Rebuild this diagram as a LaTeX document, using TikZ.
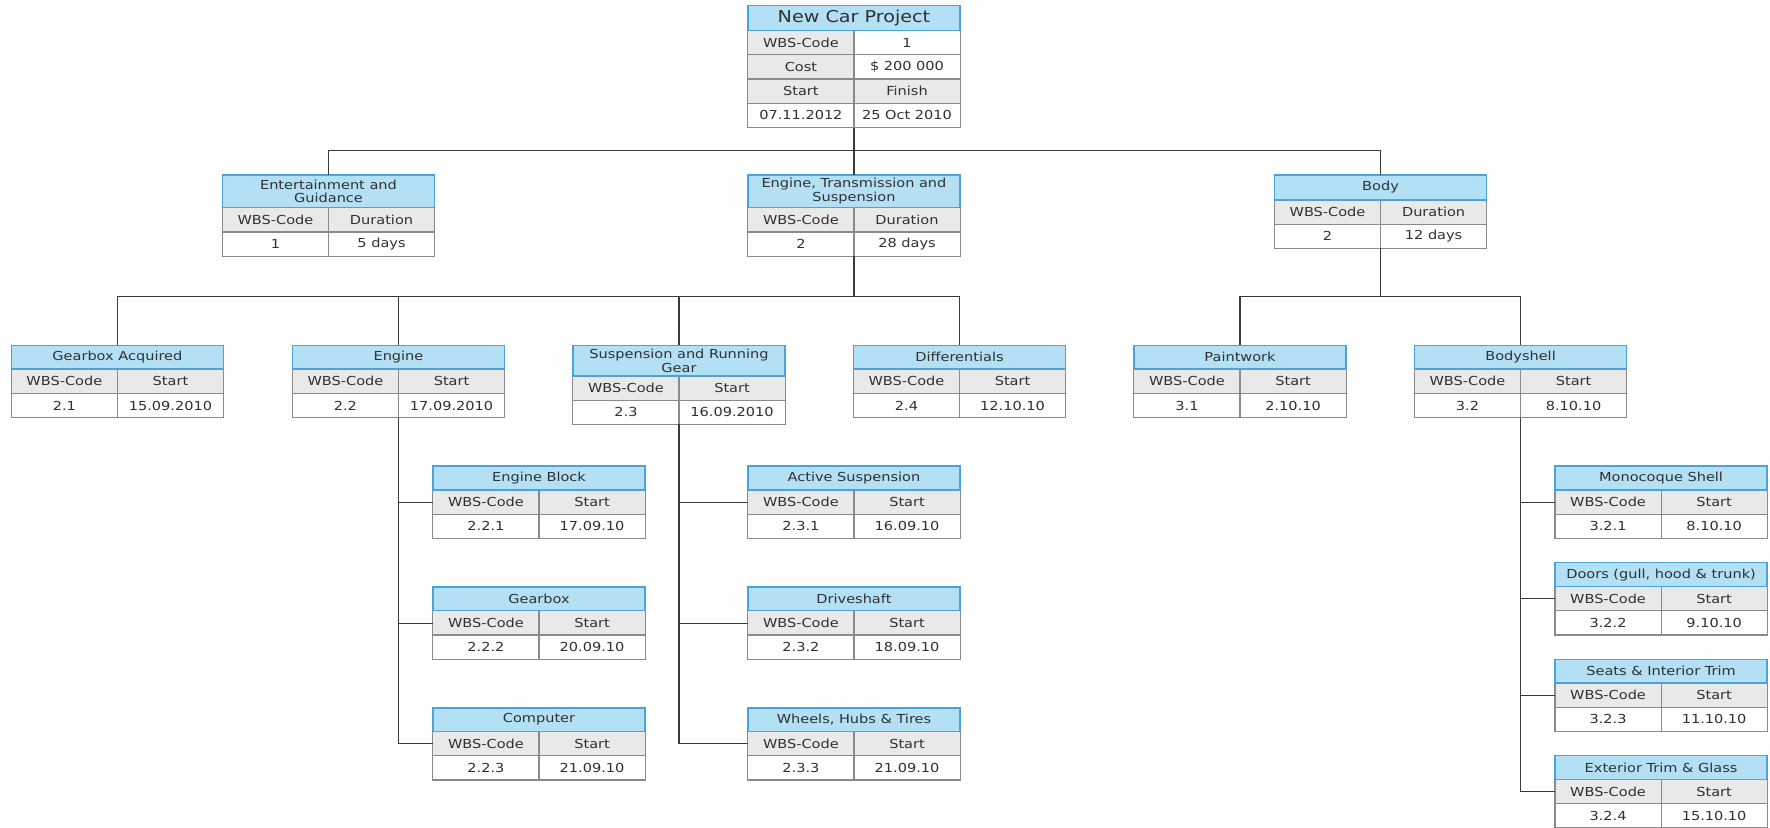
\documentclass[tikz,border=0pt]{standalone}
\usepackage{fontspec}
\setmainfont{DejaVu Sans}[FakeStretch=1.17]
\usetikzlibrary{calc}
\definecolor{tfill}{HTML}{B3E0F5}
\definecolor{tborder}{HTML}{4BA3DC}
\definecolor{hfill}{HTML}{E9E9E9}
\definecolor{gline}{HTML}{8A8A8A}
\definecolor{txt}{HTML}{303030}
\definecolor{conncol}{HTML}{3A3A3A}
\tikzset{
  frame/.style={inner sep=0pt, outer sep=0pt, minimum width=188pt},
  ttl/.style={inner sep=0pt, align=center, text=txt, font=\fontsize{11}{12}\selectfont},
  cell/.style={inner sep=0pt, text=txt, font=\fontsize{11}{12}\selectfont},
  bigttl/.style={inner sep=0pt, text=txt, font=\fontsize{14.5}{16}\selectfont},
  gridln/.style={draw=gline, line width=1pt},
  tline/.style={draw=tborder, line width=1.3pt},
  connln/.style={draw=conncol, line width=1pt},
}
% #1 name, #2 x, #3 y (center), #4 title height, #5 title, #6-#9 cells
\newcommand\wbs[9]{%
  \node[frame, minimum height={(#4+43)*1pt}] (#1) at (#2,#3) {};
  \begin{scope}[shift={(#1.north west)}]
    \fill[tfill] (0,0) rectangle (188,#4);
    \fill[hfill] (0,#4) rectangle (188,#4+21.5);
    \draw[gridln] (0,#4) rectangle (188,#4+43);
    \draw[gridln] (0,#4+21.5) -- (188,#4+21.5) (94,#4) -- (94,#4+43);
    \draw[tline] (0,0) rectangle (188,#4);
    \node[ttl] (#1-t) at (94,#4/2) {#5};
    \node[cell] (#1-a) at (47,#4+10.75) {#6};
    \node[cell] (#1-b) at (141,#4+10.75) {#7};
    \node[cell] (#1-c) at (47,#4+32.25) {#8};
    \node[cell] (#1-d) at (141,#4+32.25) {#9};
  \end{scope}}
\begin{document}
\begin{tikzpicture}[x=1pt,y=-1pt]
\useasboundingbox (0,0) rectangle (1568,733);
\fill[white] (0,0) rectangle (1568,733);
% top node
\node[frame, minimum height=108pt] (top) at (756.5,59) {};
\begin{scope}[shift={(top.north west)}]
  \fill[tfill] (0,0) rectangle (188,22);
  \fill[hfill] (0,22) rectangle (94,65);
  \fill[hfill] (94,65) rectangle (188,86.5);
  \fill[hfill] (0,65) rectangle (94,86.5);
  \draw[gridln] (0,22) rectangle (188,108);
  \draw[gridln] (0,43.5) -- (188,43.5) (0,65) -- (188,65) (0,86.5) -- (188,86.5) (94,22) -- (94,108);
  \draw[tline] (0,0) rectangle (188,22);
  \node[bigttl] (top-t) at (94,11) {New Car Project};
  \node[cell] (top-a) at (47,32.75) {WBS-Code};
  \node[cell] (top-b) at (141,32.75) {1};
  \node[cell] (top-c) at (47,54.25) {Cost};
  \node[cell] (top-d) at (141,54.25) {\$ 200 000};
  \node[cell] (top-e) at (47,75.75) {Start};
  \node[cell] (top-f) at (141,75.75) {Finish};
  \node[cell] (top-g) at (47,97.25) {07.11.2012};
  \node[cell] (top-h) at (141,97.25) {25 Oct 2010};
\end{scope}
% level 2
\wbs{ent}{291}{191}{29}{Entertainment and\\Guidance}{WBS-Code}{Duration}{1}{5 days}
\wbs{ets}{756.5}{191}{29}{Engine, Transmission and\\Suspension}{WBS-Code}{Duration}{2}{28 days}
\wbs{body}{1223}{187.5}{22}{Body}{WBS-Code}{Duration}{2}{12 days}
% level 3
\wbs{ga}{104}{338}{21}{Gearbox Acquired}{WBS-Code}{Start}{2.1}{15.09.2010}
\wbs{eng}{353}{338}{21}{Engine}{WBS-Code}{Start}{2.2}{17.09.2010}
\wbs{susp}{601.5}{341}{27}{Suspension and Running\\Gear}{WBS-Code}{Start}{2.3}{16.09.2010}
\wbs{diff}{850}{338}{21}{Differentials}{WBS-Code}{Start}{2.4}{12.10.10}
\wbs{paint}{1098.5}{338}{21}{Paintwork}{WBS-Code}{Start}{3.1}{2.10.10}
\wbs{bshell}{1347}{338}{21}{Bodyshell}{WBS-Code}{Start}{3.2}{8.10.10}
% level 4
\wbs{eblock}{477.5}{445}{21}{Engine Block}{WBS-Code}{Start}{2.2.1}{17.09.10}
\wbs{gbox}{477.5}{552}{21}{Gearbox}{WBS-Code}{Start}{2.2.2}{20.09.10}
\wbs{comp}{477.5}{659}{21}{Computer}{WBS-Code}{Start}{2.2.3}{21.09.10}
\wbs{act}{756.5}{445}{21}{Active Suspension}{WBS-Code}{Start}{2.3.1}{16.09.10}
\wbs{drive}{756.5}{552}{21}{Driveshaft}{WBS-Code}{Start}{2.3.2}{18.09.10}
\wbs{wheel}{756.5}{659}{21}{Wheels, Hubs \& Tires}{WBS-Code}{Start}{2.3.3}{21.09.10}
\wbs{mono}{1471.5}{445}{21}{Monocoque Shell}{WBS-Code}{Start}{3.2.1}{8.10.10}
\wbs{doors}{1471.5}{530.5}{21}{Doors (gull, hood \& trunk)}{WBS-Code}{Start}{3.2.2}{9.10.10}
\wbs{seats}{1471.5}{616}{21}{Seats \& Interior Trim}{WBS-Code}{Start}{3.2.3}{11.10.10}
\wbs{ext}{1471.5}{701.5}{21}{Exterior Trim \& Glass}{WBS-Code}{Start}{3.2.4}{15.10.10}
% connectors
\coordinate (b1) at (756.5,133);
\draw[connln] (top.south) -- (b1);
\draw[connln] (ent.north) |- (b1) -| (body.north);
\draw[connln] (b1) -- (ets.north);
\coordinate (b2) at (756.5,263);
\draw[connln] (ets.south) -- (b2);
\draw[connln] (ga.north) |- (b2) -| (diff.north);
\draw[connln] (eng.north) |- (b2);
\draw[connln] (susp.north) |- (b2);
\coordinate (b3) at (1223,263);
\draw[connln] (body.south) -- (b3);
\draw[connln] (paint.north) |- (b3) -| (bshell.north);
\draw[connln] (eng.south) |- (comp.west);
\draw[connln] (eng.south) |- (eblock.west);
\draw[connln] (eng.south) |- (gbox.west);
\draw[connln] (susp.south) |- (wheel.west);
\draw[connln] (susp.south) |- (act.west);
\draw[connln] (susp.south) |- (drive.west);
\draw[connln] (bshell.south) |- (ext.west);
\draw[connln] (bshell.south) |- (mono.west);
\draw[connln] (bshell.south) |- (doors.west);
\draw[connln] (bshell.south) |- (seats.west);
\end{tikzpicture}
\end{document}
